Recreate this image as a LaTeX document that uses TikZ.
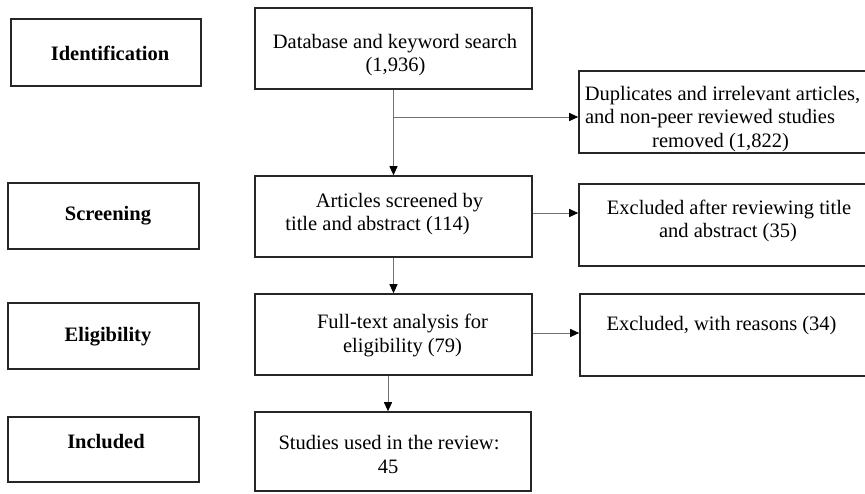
\documentclass[tikz,border=0pt]{standalone}
\usepackage{fontspec}
\setmainfont{Liberation Serif}
\usetikzlibrary{arrows.meta}

\tikzset{
  stage/.style={draw=black!85, line width=1.6pt, inner sep=0pt},
  txt/.style={inner sep=0pt, anchor=base, font=\fontsize{20.5}{23.5}\selectfont},
  hd/.style={txt, font=\fontsize{20.5}{23.5}\selectfont\bfseries},
  flow/.style={draw=black!55, line width=0.9pt, -{Triangle[length=9pt,width=8pt,color=black]}},
}

\begin{document}
\begin{tikzpicture}[x=1pt, y=-1pt]
  \clip (0,0) rectangle (865,493);

  % stage labels on the left
  \node[stage, minimum width=190pt, minimum height=67pt] (idf) at (106,52.5) {};
  \node[stage, minimum width=191pt, minimum height=66pt] (scr) at (103.5,216) {};
  \node[stage, minimum width=191pt, minimum height=66pt] (elg) at (103.5,336) {};
  \node[stage, minimum width=191pt, minimum height=65pt] (inc) at (103.5,449.5) {};
  \node[hd] (idf-t) at (110,60) {Identification};
  \node[hd] (scr-t) at (108,220) {Screening};
  \node[hd] (elg-t) at (108,341) {Eligibility};
  \node[hd] (inc-t) at (106,448) {Included};

  % main flow boxes
  \node[stage, minimum width=277pt, minimum height=81pt] (db)  at (393.5,48.5) {};
  \node[stage, minimum width=277pt, minimum height=81pt] (art) at (393.5,216.5) {};
  \node[stage, minimum width=277pt, minimum height=81pt] (ful) at (393.5,334.5) {};
  \node[stage, minimum width=276pt, minimum height=79pt] (stu) at (393,451.5) {};

  % exclusion boxes (running off the right edge)
  \node[stage, minimum width=293pt, minimum height=82pt] (dup) at (725.5,112) {};
  \node[stage, minimum width=293pt, minimum height=82pt] (exa) at (725.5,225) {};
  \node[stage, minimum width=292pt, minimum height=82pt] (exr) at (726,335) {};

  % box texts
  \node[txt] (db-1) at (395,48) {Database and keyword search};
  \node[txt] (db-2) at (395.5,71.5) {(1,936)};

  \node[txt] (dup-1) at (722.5,100) {Duplicates and irrelevant articles,};
  \node[txt] (dup-2) at (710,123.5) {and non-peer reviewed studies};
  \node[txt] (dup-3) at (720.5,147) {removed (1,822)};

  \node[txt] (art-1) at (399.5,207) {Articles screened by};
  \node[txt] (art-2) at (377.5,230.5) {title and abstract (114)};

  \node[txt] (exa-1) at (729,214) {Excluded after reviewing title};
  \node[txt] (exa-2) at (728,237) {and abstract (35)};

  \node[txt] (ful-1) at (402.5,328) {Full-text analysis for};
  \node[txt] (ful-2) at (402.5,352) {eligibility (79)};

  \node[txt] (exr-1) at (721.5,330) {Excluded, with reasons (34)};

  \node[txt] (stu-1) at (389,449) {Studies used in the review:};
  \node[txt] (stu-2) at (388,473) {45};

  % connectors
  \draw[flow] (db.south) -- (art.north);
  \coordinate (br) at (393.5,117);
  \draw[flow] (br) -- (br -| dup.west);
  \draw[flow] ([yshift=3.5pt]art.east) coordinate (a1) -- (a1 -| exa.west);
  \draw[flow] (art.south) -- (ful.north);
  \draw[flow] ([yshift=1.5pt]ful.east) coordinate (a2) -- (a2 -| exr.west);
  \draw[flow] ([xshift=-5.5pt]ful.south) coordinate (a3) -- (a3 |- stu.north);
\end{tikzpicture}
\end{document}
